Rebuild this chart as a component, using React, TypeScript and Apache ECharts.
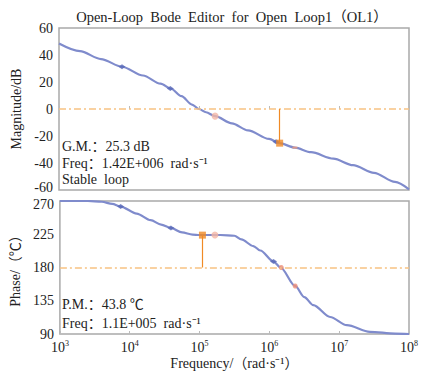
import React, { useEffect, useRef } from 'react';
import * as echarts from 'echarts';

const FONT = 'Liberation Serif, Noto Sans CJK SC, serif';

// log10(frequency) samples and magnitude (dB)
const magExp = [3.0, 3.3, 3.6, 3.9, 4.2, 4.45, 4.6, 4.75, 4.9, 5.0, 5.1, 5.23, 5.47, 5.7, 6.0, 6.15, 6.37, 6.6, 6.92, 7.2, 7.5, 7.8, 8.0];
const magDb = [48.5, 42.8, 37, 31.3, 24.8, 18.8, 15.0, 9.5, 3.3, 0, -2.4, -5.3, -10.6, -15.8, -22.2, -25.3, -28.6, -32, -36.8, -41.6, -47.3, -54, -59.5];

// log10(frequency) samples and phase (deg)
const phaseExp = [3.0, 3.4, 3.6, 3.75, 3.87, 4.1, 4.3, 4.45, 4.59, 4.75, 4.9, 5.0, 5.3, 5.5, 5.6, 5.77, 5.87, 6.06, 6.16, 6.37, 6.5, 6.63, 6.87, 7.11, 7.44, 7.8, 8.0];
const phaseDeg = [270, 270, 269, 266, 262.5, 253, 244, 238, 233.5, 227.5, 224.5, 224, 224, 223, 218, 209, 203, 188, 180, 155, 140, 129, 113, 102, 93, 90.5, 90];

// margins
const gmFreq = 1.42e6;
const gmDb = -25.3;
const pmFreq = 1.1e5;
const pmDeg = 223.8;

// markers: [log10 freq, value]
const magBlueMarks = [[3.9, 31.3], [4.59, 15.2], [6.1, -24.3]];
const magPinkMarks = [[5.23, -5.3]];
const magSmallOrange = [[6.37, -28.6]];
const phaseBlueMarks = [[3.87, 262.5], [4.59, 233.5], [6.06, 188]];
const phasePinkMarks = [[5.22, 224]];
const phaseCrossMarks = [[6.17, 180], [6.37, 155]];

const magTicks = { min: -60, max: 60, interval: 20 };
const phaseTicks = { min: 90, max: 270, interval: 45 };

const toPts = (exps: number[], vals: number[]) => exps.map((e, i) => [Math.pow(10, e), vals[i]]);
const markPts = (arr: number[][]) => arr.map(([e, v]) => [Math.pow(10, e), v]);

const LINE = '#7f8bcc';
const ORANGE = '#f08a25';
const LIGHT_ORANGE = '#f7c283';
const TXT = '#222';

export default function App() {
  const ref = useRef<HTMLDivElement>(null);
  useEffect(() => {
    if (!ref.current) return;
    const chart = echarts.init(ref.current, undefined, { renderer: 'svg' });
    const xBase = {
      type: 'log' as const,
      logBase: 10,
      min: 1e3,
      max: 1e8,
      splitLine: { show: false },
      axisLine: { show: false },
      axisTick: { show: true, inside: true, length: 3, lineStyle: { color: '#bbb' } },
      minorTick: { show: false },
    };
    const yLabelBase = { fontFamily: FONT, fontSize: 14, color: TXT, margin: 6 };
    const vLine = { color: ORANGE, type: 'solid', width: 1.2 };
    const txt = (text: string, top: number) => ({
      type: 'text', left: 62, top,
      style: { text, fontFamily: FONT, fontSize: 14, fill: TXT },
    });
    chart.setOption({
      animation: false,
      backgroundColor: '#fff',
      title: {
        text: 'Open-Loop  Bode  Editor  for  Open  Loop1（OL1）',
        left: 227,
        textAlign: 'center',
        top: 5,
        textStyle: { fontFamily: FONT, fontSize: 14.5, fontWeight: 'normal', color: TXT },
      },
      grid: [
        { left: 59, top: 28, width: 350, height: 162, show: true, borderColor: '#a9a9a9', borderWidth: 1.5, backgroundColor: '#fff' },
        { left: 59, top: 201, width: 350, height: 133, show: true, borderColor: '#a9a9a9', borderWidth: 1.5, backgroundColor: '#fff' },
      ],
      xAxis: [
        { ...xBase, gridIndex: 0, axisLabel: { show: false } },
        {
          ...xBase,
          gridIndex: 1,
          name: 'Frequency/（rad·s⁻¹）',
          nameLocation: 'middle',
          nameGap: 22,
          nameTextStyle: { fontFamily: FONT, fontSize: 14, color: TXT },
          axisLabel: {
            margin: 5,
            fontFamily: FONT,
            formatter: (v: number) => `{b|10}{s|${Math.round(Math.log10(v))}}`,
            rich: {
              b: { fontFamily: FONT, fontSize: 14, color: TXT, lineHeight: 16 },
              s: { fontFamily: FONT, fontSize: 8, color: TXT, verticalAlign: 'top', lineHeight: 16, padding: [0, 0, 6, 0] },
            },
          },
        },
      ],
      yAxis: [
        {
          type: 'value', gridIndex: 0, ...magTicks,
          name: 'Magnitude/dB', nameLocation: 'middle', nameGap: 34,
          nameTextStyle: { fontFamily: FONT, fontSize: 14, color: TXT },
          splitLine: { show: false }, axisLine: { show: false }, axisTick: { show: false },
          axisLabel: {
            ...yLabelBase,
            formatter: (v: number) => (v === magTicks.min ? `{lo|${v}}` : `${v}`),
            rich: { lo: { fontFamily: FONT, fontSize: 14, color: TXT, padding: [0, 0, 6, 0] } },
          },
        },
        {
          type: 'value', gridIndex: 1, ...phaseTicks,
          name: 'Phase/（℃）', nameLocation: 'middle', nameGap: 34,
          nameTextStyle: { fontFamily: FONT, fontSize: 14, color: TXT },
          splitLine: { show: false }, axisLine: { show: false }, axisTick: { show: false },
          axisLabel: {
            ...yLabelBase,
            formatter: (v: number) => (v === phaseTicks.max ? `{hi|${v}}` : `${v}`),
            rich: { hi: { fontFamily: FONT, fontSize: 14, color: TXT, padding: [6, 0, 0, 0] } },
          },
        },
      ],
      series: [
        {
          type: 'line', xAxisIndex: 0, yAxisIndex: 0,
          data: toPts(magExp, magDb), smooth: 0.3, smoothMonotone: 'x', showSymbol: false,
          lineStyle: { color: LINE, width: 2.2 }, z: 3,
          markLine: {
            silent: true, symbol: 'none', label: { show: false },
            lineStyle: vLine,
            data: [
              { yAxis: 0, lineStyle: { color: LIGHT_ORANGE, type: [7, 3, 2, 3], width: 1.5 } },
              [{ coord: [gmFreq, 0], lineStyle: vLine }, { coord: [gmFreq, gmDb], lineStyle: vLine }],
            ],
          },
        },
        {
          type: 'line', xAxisIndex: 1, yAxisIndex: 1,
          data: toPts(phaseExp, phaseDeg), smooth: 0.3, smoothMonotone: 'x', showSymbol: false,
          lineStyle: { color: LINE, width: 2.2 }, z: 3,
          markLine: {
            silent: true, symbol: 'none', label: { show: false },
            lineStyle: vLine,
            data: [
              { yAxis: 180, lineStyle: { color: LIGHT_ORANGE, type: [7, 3, 2, 3], width: 1.5 } },
              [{ coord: [pmFreq, pmDeg], lineStyle: vLine }, { coord: [pmFreq, 180], lineStyle: vLine }],
            ],
          },
        },
        { type: 'scatter', xAxisIndex: 0, yAxisIndex: 0, data: markPts(magBlueMarks), symbol: 'diamond', symbolSize: [7, 5], itemStyle: { color: '#5868b8' }, z: 4 },
        { type: 'scatter', xAxisIndex: 0, yAxisIndex: 0, data: markPts(magPinkMarks), symbol: 'circle', symbolSize: 7, itemStyle: { color: '#f4b6a6' }, z: 4 },
        { type: 'scatter', xAxisIndex: 0, yAxisIndex: 0, data: markPts(magSmallOrange), symbol: 'rect', symbolSize: [5, 2], itemStyle: { color: '#f09a7a' }, z: 4 },
        { type: 'scatter', xAxisIndex: 0, yAxisIndex: 0, data: [[gmFreq, gmDb]], symbol: 'rect', symbolSize: 7, itemStyle: { color: ORANGE }, z: 5 },
        { type: 'scatter', xAxisIndex: 1, yAxisIndex: 1, data: markPts(phaseBlueMarks), symbol: 'diamond', symbolSize: [7, 5], itemStyle: { color: '#5868b8' }, z: 4 },
        { type: 'scatter', xAxisIndex: 1, yAxisIndex: 1, data: markPts(phasePinkMarks), symbol: 'circle', symbolSize: 7, itemStyle: { color: '#f4b6a6' }, z: 4 },
        { type: 'scatter', xAxisIndex: 1, yAxisIndex: 1, data: markPts(phaseCrossMarks), symbol: 'circle', symbolSize: 5, itemStyle: { color: '#ef8f78' }, z: 4 },
        { type: 'scatter', xAxisIndex: 1, yAxisIndex: 1, data: [[pmFreq, pmDeg]], symbol: 'rect', symbolSize: 7, itemStyle: { color: ORANGE }, z: 5 },
      ],
      graphic: [
        txt('G.M.：25.3 dB', 139),
        txt('Freq：1.42E+006  rad·s⁻¹', 156),
        txt('Stable  loop', 172),
        txt('P.M.：43.8 ℃', 297),
        txt('Freq：1.1E+005  rad·s⁻¹', 316),
      ],
    });
    return () => chart.dispose();
  }, []);
  return <div ref={ref} style={{ width: 433, height: 378, position: 'absolute', left: 0, top: 0 }} />;
}
